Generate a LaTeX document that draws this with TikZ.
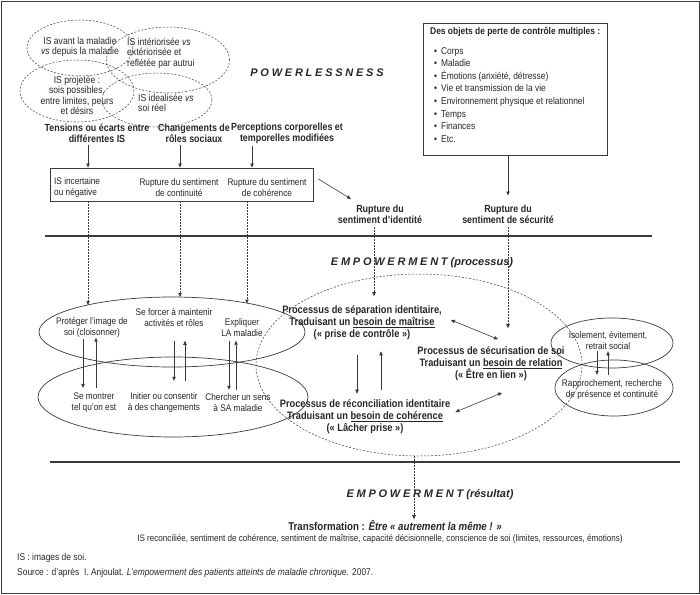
\documentclass[tikz,border=0pt]{standalone}
\usepackage{fontspec}
\setmainfont{Liberation Sans}[FakeStretch=0.86]
\newfontfamily\spacedfont[LetterSpace=25]{Liberation Sans}
\newfontfamily\plainfont{Liberation Sans}
\usetikzlibrary{arrows.meta,shapes.geometric}
\definecolor{ink}{HTML}{262626}
\definecolor{linec}{HTML}{3A3A3A}
\begin{document}
\begin{tikzpicture}[x=1pt,y=-1pt,
  every node/.style={inner sep=0pt,text=ink},
  sm/.style={font=\fontsize{9.6}{11}\selectfont,align=center},
  hd/.style={font=\fontsize{10.35}{11}\selectfont\bfseries,align=center},
  pr/.style={font=\fontsize{10.8}{12}\selectfont\bfseries,align=center},
  ttl/.style={font=\fontsize{11}{13}\selectfont\plainfont\bfseries\itshape},
  dov/.style={draw=linec,dash pattern=on 2pt off 1.6pt,line width=0.5pt,ellipse},
  sov/.style={draw=linec,line width=0.7pt,ellipse},
  bx/.style={draw=linec,line width=0.8pt,rectangle},
  arr/.style={draw=linec,line width=0.6pt,-{Triangle[length=4pt,width=3.4pt]}},
  darr/.style={arr,dash pattern=on 1.8pt off 1.2pt},
  dbl/.style={draw=linec,line width=0.6pt,{Triangle[length=4pt,width=3.4pt]}-{Triangle[length=4pt,width=3.4pt]}},
  rule/.style={draw=linec,line width=1.1pt}]
\useasboundingbox (0,0) rectangle (700,594);
\draw[linec,line width=0.9pt] (1,1) rectangle (699,593);

% ---------- POWERLESSNESS ----------
\node[dov,minimum width=106pt,minimum height=56pt] (e1) at (80,48) {};
\node[dov,minimum width=123pt,minimum height=66pt] (e2) at (168,60) {};
\node[dov,minimum width=114pt,minimum height=62pt] (e3) at (77,91) {};
\node[dov,minimum width=110pt,minimum height=54pt] (e4) at (157,100) {};
\node[sm,font=\fontsize{10}{10.5}\selectfont] (te1) at (80,47) {IS avant la maladie\\\textit{vs} depuis la maladie};
\node[sm,font=\fontsize{10}{10.5}\selectfont,align=left,anchor=west] (te2) at (127,53) {IS intériorisée \textit{vs}\\extériorisée et\\reflétée par autrui};
\node[sm,font=\fontsize{10}{10.5}\selectfont] (te3) at (77,95.5) {IS projetée :\\sois possibles,\\entre limites, peurs\\et désirs};
\node[sm,font=\fontsize{10}{10.5}\selectfont,align=left,anchor=west] (te4) at (138,103) {IS idealisée \textit{vs}\\soi réel};

\node[ttl] (pw) at (317,73) {{\spacedfont POWERLESSNESS}};

\node[hd] (h1) at (97,133.5) {Tensions ou écarts entre\\différentes IS};
\node[hd] (h2) at (194,133.5) {Changements de\\rôles sociaux};
\node[hd] (h3) at (287,133.5) {Perceptions corporelles et\\temporelles modifiées};

\node[bx,minimum width=263pt,minimum height=33pt] (box) at (181.5,184.5) {};
\node[sm,align=left,anchor=west] (b1) at (54,187.5) {IS incertaine\\ou négative};
\node[sm] (b2) at (179,187.5) {Rupture du sentiment\\de continuité};
\node[sm] (b3) at (267,187.5) {Rupture du sentiment\\de cohérence};

\coordinate (x1) at (88,0);
\coordinate (x2) at (180,0);
\coordinate (x3) at (252,0);
\draw[arr,shorten <=2pt] (h1.south -| x1) -- (box.north -| x1);
\draw[arr,shorten <=2pt] (h2.south -| x2) -- (box.north -| x2);
\draw[arr,shorten <=2pt] (h3.south -| x3) -- (box.north -| x3);

\node[bx,minimum width=184pt,minimum height=132pt] (objbox) at (515,89) {};
\node[anchor=north west,align=left,font=\fontsize{9.8}{12.6}\selectfont] (objtxt) at (430,27)
 {\textbf{Des objets de perte de contrôle multiples :}\\[7pt]
  \hspace*{4pt}\textbullet\hspace{4pt}Corps\\
  \hspace*{4pt}\textbullet\hspace{4pt}Maladie\\
  \hspace*{4pt}\textbullet\hspace{4pt}Émotions (anxiété, détresse)\\
  \hspace*{4pt}\textbullet\hspace{4pt}Vie et transmission de la vie\\
  \hspace*{4pt}\textbullet\hspace{4pt}Environnement physique et relationnel\\
  \hspace*{4pt}\textbullet\hspace{4pt}Temps\\
  \hspace*{4pt}\textbullet\hspace{4pt}Finances\\
  \hspace*{4pt}\textbullet\hspace{4pt}Etc.};

\node[hd] (r1) at (380,214.5) {Rupture du\\sentiment d'identité};
\node[hd] (r2) at (508,214.5) {Rupture du\\sentiment de sécurité};

\draw[arr] ([shift={(5,-5.5)}]box.east) -- ([shift={(-29,-6)}]r1.north);
\draw[arr,shorten >=9.5pt] (objbox.south -| r2) -- (r2.north);

\draw[rule] (45,236) -- (652,236);

% ---------- EMPOWERMENT (processus) ----------
\node[ttl] (ep) at (422,263) {{\spacedfont EMPOWERMENT} (processus)};

\node[sov,minimum width=266pt,minimum height=70pt] (up) at (172,332) {};
\node[sov,minimum width=270pt,minimum height=80pt] (lo) at (173,397) {};
\node[dov,minimum width=326pt,minimum height=182pt] (ce) at (419,365) {};
\node[sov,minimum width=122pt,minimum height=50pt] (ru) at (612,343) {};
\node[sov,minimum width=118pt,minimum height=56pt] (rl) at (614,388) {};

\node[sm] (m1) at (92,327.5) {Protéger l'image de\\soi (cloisonner)};
\node[sm] (m2) at (174,318) {Se forcer à maintenir\\activités et rôles};
\node[sm] (m3) at (242,327.5) {Expliquer\\LA maladie};
\node[sm] (l1) at (94,402.5) {Se montrer\\tel qu'on est};
\node[sm] (l2) at (164,402.5) {Initier ou consentir\\à des changements};
\node[sm] (l3) at (238,402.5) {Chercher un sens\\à SA maladie};

\node[pr] (c1) at (362,323) {Processus de séparation identitaire,\\Traduisant un \underline{besoin de maîtrise}\\(« prise de contrôle »)};
\node[pr] (c2) at (365,417) {Processus de réconciliation identitaire\\Traduisant un \underline{besoin de cohérence}\\(« Lâcher prise »)};
\node[pr] (c3) at (491,363.5) {Processus de sécurisation de soi\\Traduisant un \underline{besoin de relation}\\(« Être en lien »)};

\node[sm] (s1) at (608,341) {Isolement, évitement,\\retrait social};
\node[sm] (s2) at (612,389.5) {Rapprochement, recherche\\de présence et continuité};

% dashed arrows from the box to the upper ellipse
\coordinate (d1) at (88,305);
\coordinate (d2) at (180,297);
\coordinate (d3) at (247,303.5);
\draw[darr] (box.south -| d1) -- (d1);
\draw[darr] (box.south -| d2) -- (d2);
\draw[darr] (box.south -| d3) -- (d3);

% dashed arrows from the ruptures
\coordinate (k1) at (374,0);
\draw[darr,shorten <=3pt,shorten >=9.5pt] (r1.south -| k1) -- (c1.north -| k1);
\draw[darr,shorten <=3pt,shorten >=18pt] (r2.south) -- (c3.north -| r2);

% vertical arrow pairs
\coordinate (v1) at (83,0);   \coordinate (w1) at (96,0);
\coordinate (v2) at (174,0);  \coordinate (w2) at (185,0);
\coordinate (v3) at (229,0);  \coordinate (w3) at (236,0);
\draw[arr,shorten <=1pt,shorten >=4.5pt] (m1.south -| v1) -- (l1.north -| v1);
\draw[arr,shorten <=4.5pt,shorten >=0pt] (l1.north -| w1) -- (m1.south -| w1);
\draw[arr,shorten <=13.5pt,shorten >=11.5pt] (m2.south -| v2) -- (l2.north -| v2);
\draw[arr,shorten <=11.5pt,shorten >=13.5pt] (l2.north -| w2) -- (m2.south -| w2);
\draw[arr,shorten <=4pt,shorten >=3.5pt] (m3.south -| v3) -- (l3.north -| v3);
\draw[arr,shorten <=3.5pt,shorten >=4pt] (l3.north -| w3) -- (m3.south -| w3);

\coordinate (v4) at (357,0);  \coordinate (w4) at (381,0);
\draw[arr,shorten <=15pt,shorten >=6pt] (c1.south -| v4) -- (c2.north -| v4);
\draw[arr,shorten <=10pt,shorten >=11pt] (c2.north -| w4) -- (c1.south -| w4);

\coordinate (v5) at (597,0);  \coordinate (w5) at (608,0);
\draw[arr,shorten <=1pt,shorten >=4.5pt] (s1.south -| v5) -- (s2.north -| v5);
\draw[arr,shorten <=4.5pt,shorten >=1pt] (s2.north -| w5) -- (s1.south -| w5);

\draw[dbl] ([shift={(9,-3)}]c1.east) -- ([shift={(7,-7)}]c3.north);
\draw[dbl] ([shift={(5,-5)}]c2.east) -- ([shift={(11,12)}]c3.south);

\draw[rule] (50,462) -- (680,462);

% ---------- EMPOWERMENT (résultat) ----------
\node[ttl] (er) at (430,495) {{\spacedfont EMPOWERMENT} (résultat)};
\node[font=\fontsize{11.3}{12}\selectfont\bfseries] (tr) at (395,525) {Transformation : \textit{Être « autrement la même ! »}};
\node[sm,font=\fontsize{9.4}{11}\selectfont] (res) at (380,539) {IS reconciliée, sentiment de cohérence, sentiment de maîtrise, capacité décisionnelle, conscience de soi (limites, ressources, émotions)};
\coordinate (k3) at (414,0);
\draw[darr,shorten >=0.5pt] (ce.south -| k3) -- (tr.north -| k3);

\node[sm,anchor=west,font=\fontsize{9.8}{11}\selectfont] (f1) at (17,558) {IS : images de soi.};
\node[sm,anchor=west,font=\fontsize{9.8}{11}\selectfont] (f2) at (17,573) {Source : d'après\ \ I. Anjoulat. \textit{L'empowerment des patients atteints de maladie chronique.} 2007.};
\end{tikzpicture}
\end{document}
